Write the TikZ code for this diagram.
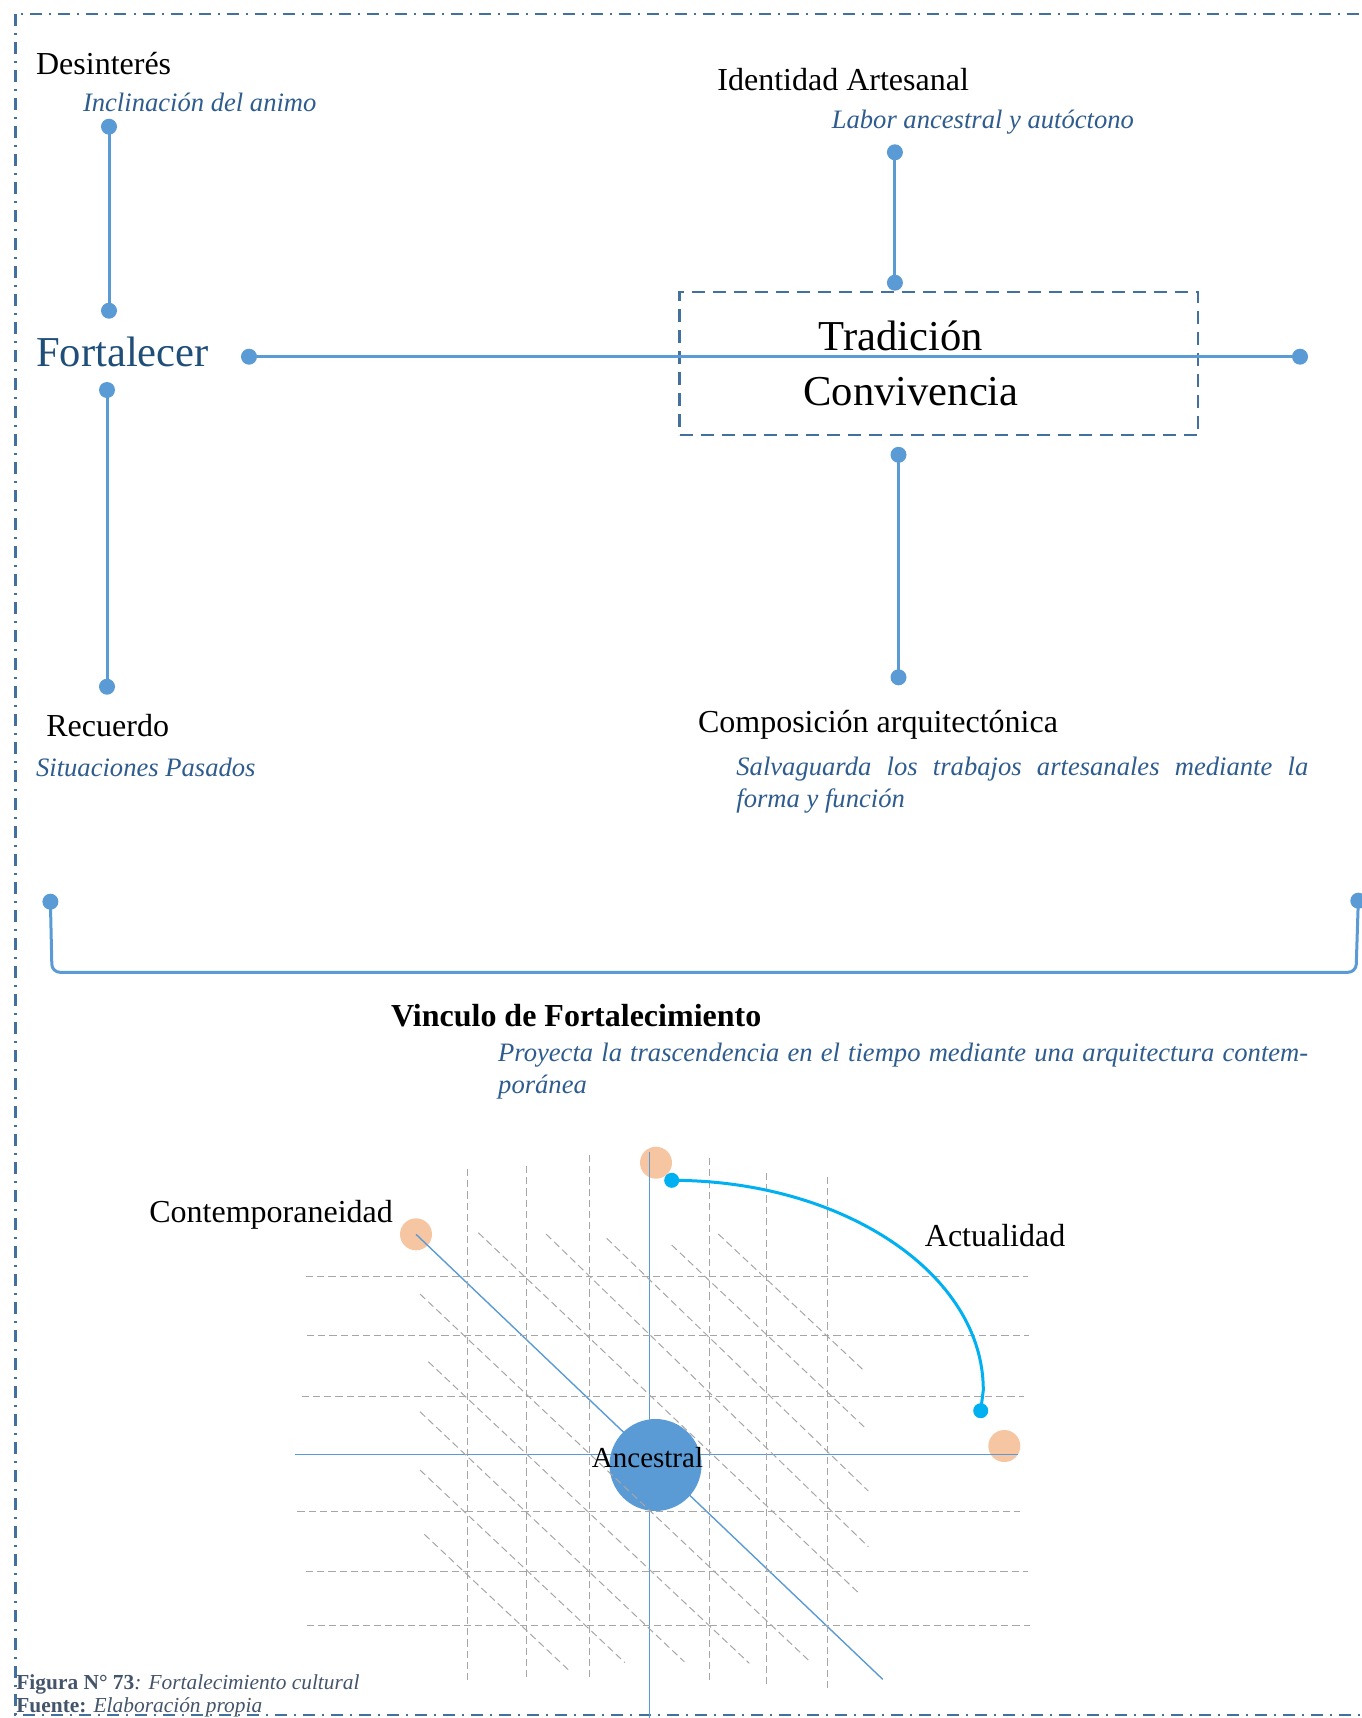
\documentclass[tikz,border=0pt]{standalone}
\usepackage{fontspec}
\setmainfont{Liberation Serif}
\usetikzlibrary{calc}

\definecolor{lineblue}{HTML}{5B9BD5}
\definecolor{frameblue}{HTML}{41719C}
\definecolor{noteblue}{HTML}{2E5C8E}
\definecolor{deepblue}{HTML}{1F4E79}
\definecolor{peach}{HTML}{F6C6A3}
\definecolor{skyblue}{HTML}{00B0F0}
\definecolor{gridgray}{HTML}{A6A6A6}
\definecolor{capgray}{HTML}{44546A}

\begin{document}
\begin{tikzpicture}[x=0.5pt, y=-0.5pt,
    knob/.style={circle, fill=lineblue, inner sep=0pt, minimum size=8pt},
    joinline/.style={draw=lineblue, line width=1.5pt},
    headtxt/.style={font=\fontsize{16}{19}\selectfont, inner sep=0pt, anchor=base west},
    subtxt/.style={font=\fontsize{13.3}{16}\selectfont\itshape, text=noteblue, inner sep=0pt, anchor=base west},
    bigtxt/.style={font=\fontsize{21.3}{25}\selectfont, inner sep=0pt, anchor=base},
    gridline/.style={draw=gridgray, line width=0.5pt, dash pattern=on 3.6pt off 2pt},
    axisline/.style={draw=lineblue, line width=0.7pt},
    ball/.style={circle, fill=peach, inner sep=0pt, minimum size=16pt},
    capline/.style={font=\fontsize{10.7}{12}\selectfont, text=capgray, inner sep=0pt, anchor=base west}]
        \useasboundingbox (0,0) rectangle (1361,1718);
        % Outer frame
        \draw[frameblue, line width=1.2pt, dash pattern=on 6pt off 3.5pt on 1pt off 3.5pt] (15.5,14) rectangle (1380,1715);
        % Desinteres
        \node[headtxt] (desint) at (35.7,75) {Desinterés};
        \node[subtxt] (desintNote) at (82.6,112) {Inclinación del animo};
        \node[knob] (desTop) at (109,126.7) {};
        \node[knob] (desBot) at (109,310.7) {};
        \draw[joinline] (desTop.center) -- (desBot.center);
        % Box for Tradicion and Convivencia
        \node[draw=frameblue, line width=1.2pt, dash pattern=on 6.5pt off 4pt, minimum width=259.25pt, minimum height=71.5pt, inner sep=0pt] (core) at (938.75,363.5) {};
        \node[bigtxt] (trad) at (901,350) {Tradición};
        \node[bigtxt] (conv) at (911,405) {Convivencia};
        % Fortalecer axis
        \node[bigtxt, anchor=base west, text=deepblue] (fort) at (35.7,366.7) {Fortalecer};
        \node[knob] (fortDot) at (249,356.7) {};
        \node[knob] (endDot) at (1300,356.7) {};
        \draw[joinline] (fortDot.center) -- (endDot.center);
        % Recuerdo
        \node[knob] (recTop) at (107,390) {};
        \node[knob] (recBot) at (107,686.7) {};
        \draw[joinline] (recTop.center) -- (recBot.center);
        \node[headtxt] (recuerdo) at (46,736.7) {Recuerdo};
        \node[subtxt] (recNote) at (35.7,776.7) {Situaciones Pasados};
        % Identidad Artesanal
        \node[headtxt] (ident) at (717,90.7) {Identidad Artesanal};
        \node[subtxt] (identNote) at (831.4,128.3) {Labor ancestral y autóctono};
        \node[knob] (idTop) at (894.9,152.3) {};
        \node[knob] (idBot) at (894.9,282.7) {};
        \draw[joinline] (idTop.center) -- (idBot.center);
        % Composicion arquitectonica
        \node[knob] (compTop) at (898.5,454.8) {};
        \node[knob] (compBot) at (898.5,677.3) {};
        \draw[joinline] (compTop.center) -- (compBot.center);
        \node[headtxt] (comp) at (697.6,732.7) {Composición arquitectónica};
        \node[subtxt, text width=286pt, align=justify] (compNote) at (736,775) {Salvaguarda los trabajos artesanales mediante la\linebreak forma y función};
        % Bracket
        \node[knob] (brLeft) at (50.4,901.7) {};
        \node[knob] (brRight) at (1358.3,900.7) {};
        \draw[joinline, rounded corners=4pt] (brLeft.center) -- (52,972.3) -- (1356,972.3) -- (brRight.center);
        % Vinculo de Fortalecimiento
        \node[headtxt, font=\fontsize{16}{19}\selectfont\bfseries] (vinc) at (390.6,1026.7) {Vinculo de Fortalecimiento};
        \node[subtxt, text width=405pt, align=justify] (vincNote) at (497.8,1061.7) {Proyecta la trascendencia en el tiempo mediante una arquitectura contem-\linebreak poránea};
        % Peach balls
        \node[ball] (ballTop) at (656,1162.7) {};
        \node[ball] (ballLeft) at (416,1234.3) {};
        \node[ball] (ballRight) at (1004.3,1446) {};
        % Blue axes
        \coordinate (axW) at (295,1454.5);
        \coordinate (axE) at (1018.3,1454.5);
        \coordinate (axN) at (649.3,1151.7);
        \coordinate (axS) at (649.3,1718);
        \coordinate (diagEnd) at (882.7,1679.3);
        \draw[axisline] (axW) -- (axE);
        \draw[axisline] (axN) -- (axS);
        \draw[axisline] (ballLeft.center) -- (diagEnd);
        % Circle for Ancestral
        \node[circle, fill=lineblue, inner sep=0pt, minimum size=46pt] (root) at (655.5,1465) {};
        % Dashed grid
        \foreach \y/\xa/\xb in {1276.7/306/1028, 1335.3/307/1029, 1396.7/301.7/1024, 1511/297.3/1020, 1571/306/1028, 1625/306.7/1030}
            \draw[gridline] (\xa,\y) -- (\xb,\y);
        \foreach \x/\ya/\yb in {467.7/1169/1680, 526.7/1166/1678.3, 589.3/1155/1679.3, 709.3/1158/1683, 766.3/1173/1688, 827.7/1176.7/1690}
            \draw[gridline] (\x,\ya) -- (\x,\yb);
        \foreach \xa/\ya/\xb/\yb in {478.3/1232.7/859/1593.3, 546/1234/868.3/1546.7, 606.7/1238.3/868.3/1491, 671.7/1245/866.7/1429.3, 718.3/1234/863.3/1370,
            420/1294/808.3/1660, 428.3/1361.7/749.3/1663.3, 420/1411.7/684.3/1661.7, 420/1470/625/1662.7, 424.3/1534.3/569.3/1670.7}
            \draw[gridline] (\xa,\ya) -- (\xb,\yb);
        \node[font=\fontsize{14.5}{17}\selectfont, inner sep=0pt, anchor=base] (rootLabel) at (647.5,1467.5) {Ancestral};
        % Actualidad arc
        \node[circle, fill=skyblue, inner sep=0pt, minimum size=7.5pt] (nowStart) at (671.7,1180.3) {};
        \node[circle, fill=skyblue, inner sep=0pt, minimum size=7.5pt] (nowEnd) at (980.7,1410.7) {};
        \draw[skyblue, line width=1.5pt] (nowStart.center) .. controls (843.8,1180.3) and (983.3,1274.2) .. (983.3,1390) -- (nowEnd.center);
        \node[headtxt] (contemp) at (149,1222.6) {Contemporaneidad};
        \node[headtxt] (actual) at (924.5,1246.7) {Actualidad};
        % Caption
        \node[capline] (figCap) at (16,1689.3) {\textbf{Figura N° 73}\textit{: Fortalecimiento cultural}};
        \node[capline] (figSrc) at (16,1712.7) {\textbf{Fuente:} \textit{Elaboración propia}};
    \end{tikzpicture}
\end{document}
